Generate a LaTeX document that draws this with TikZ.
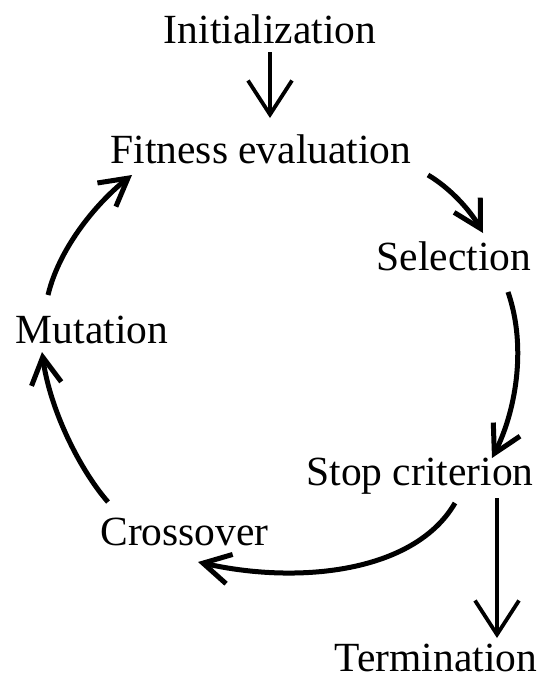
\documentclass[tikz,border=0pt]{standalone}
\usepackage{fontspec}
\setmainfont{Liberation Serif}
\usetikzlibrary{arrows.meta,calc}
\begin{document}
\begin{tikzpicture}[x=1pt,y=-1pt,
  lbl/.style={anchor=base,inner sep=0pt,font=\fontsize{41.5}{48}\selectfont},
  straightarr/.style={line width=3.8pt,-{Straight Barb[length=34pt,width=44pt,line width=3.8pt]}},
  curvearr/.style={line width=5pt,-{Straight Barb[length=27pt,width=30pt,line width=5pt]}}]
\fill[white] (0,0) rectangle (540,678);
\useasboundingbox (0,0) rectangle (540,678);
\node[lbl] (init) at (270,43) {Initialization};
\node[lbl] (fit) at (261,163) {Fitness evaluation};
\node[lbl] (sel) at (454,270) {Selection};
\node[lbl] (stop) at (420,485) {Stop criterion};
\node[lbl] (term) at (436,671) {Termination};
\node[lbl] (cross) at (184.5,545) {Crossover};
\node[lbl] (mut) at (92,343) {Mutation};
% Initialization -> Fitness
\draw[straightarr] ($(init.base)+(0,9)$) -- ($(fit.base)+(9,-45)$);
% Fitness -> Selection
\draw[curvearr] ($(fit.base)+(167,12)$) .. controls (450,188) and (470,210) .. ($(sel.base)+(29,-37)$);
% Selection -> Stop
\draw[curvearr] ($(sel.base)+(54,22)$) .. controls (528,350) and (514,415) .. ($(stop.base)+(72,-27)$);
% Stop -> Termination
\draw[straightarr] ($(stop.base)+(77,13)$) -- ($(term.base)+(61,-33)$);
% Stop -> Crossover
\draw[curvearr] ($(stop.base)+(35,18)$) .. controls (415,572) and (300,585) .. ($(cross.base)+(13.5,17)$);
% Crossover -> Mutation
\draw[curvearr] ($(cross.base)+(-76.5,-43)$) .. controls (80,470) and (50,410) .. ($(mut.base)+(-50,9)$);
% Mutation -> Fitness
\draw[curvearr] ($(mut.base)+(-44,-48)$) .. controls (60,245) and (100,200) .. ($(fit.base)+(-129,12)$);
\end{tikzpicture}
\end{document}
